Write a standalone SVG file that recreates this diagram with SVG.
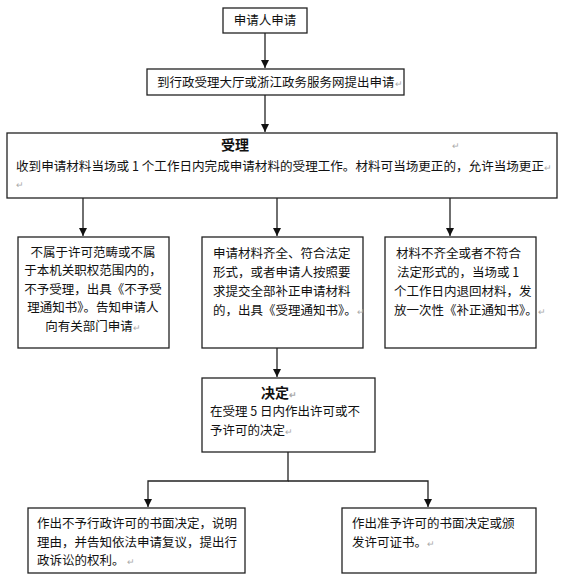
<svg xmlns="http://www.w3.org/2000/svg" width="573" height="584" viewBox="0 0 573 584">
<style>
.box{fill:#fff;stroke:#222;stroke-width:1.3}
.t{font-family:"Noto Sans CJK SC","Noto Sans",sans-serif;font-size:12.5px;fill:#111}
.b{font-family:"Noto Sans CJK SC","Noto Sans",sans-serif;font-size:14px;font-weight:bold;fill:#111}
.c{text-anchor:middle}
.pm{fill:#aaa;font-size:9px}
.ln{fill:none;stroke:#222;stroke-width:1.3}
</style>
<defs>
<marker id="ah" viewBox="0 0 10 10" refX="10" refY="5" markerWidth="8" markerHeight="8" markerUnits="userSpaceOnUse" orient="auto">
<path d="M0,0 L10,5 L0,10 z" fill="#111"/>
</marker>
</defs>
<rect width="573" height="584" fill="#fff"/>
<g id="connectors">
<line class="ln" x1="265" y1="33" x2="265" y2="68" marker-end="url(#ah)"/>
<line class="ln" x1="265" y1="95" x2="265" y2="132" marker-end="url(#ah)"/>
<line class="ln" x1="83" y1="198" x2="83" y2="236" marker-end="url(#ah)"/>
<line class="ln" x1="277" y1="198" x2="277" y2="236" marker-end="url(#ah)"/>
<line class="ln" x1="450" y1="198" x2="450" y2="236" marker-end="url(#ah)"/>
<line class="ln" x1="277" y1="348" x2="277" y2="377" marker-end="url(#ah)"/>
<polyline class="ln" points="288,452 288,481 148,481 148,507" marker-end="url(#ah)"/>
<polyline class="ln" points="288,481 428,481 428,507" marker-end="url(#ah)"/>
</g>
<g id="n1">
<rect class="box" x="223" y="8" width="84" height="25"/>
<text class="t c" x="265" y="25">申请人申请</text>
</g>
<g id="n2">
<rect class="box" x="147" y="69" width="257" height="26"/>
<text class="t" x="157" y="87">到行政受理大厅或浙江政务服务网提出申请<tspan class="pm">↵</tspan></text>
</g>
<g id="n3">
<rect class="box" x="7" y="133" width="550" height="65"/>
<text class="b c" x="235" y="150">受理</text>
<text class="t pm" x="452" y="149">↵</text>
<text class="t" x="16" y="171"><tspan textLength="528" lengthAdjust="spacingAndGlyphs">收到申请材料当场或 1 个工作日内完成申请材料的受理工作。材料可当场更正的，允许当场更正</tspan><tspan class="pm">↵</tspan></text>
<text class="t pm" x="16" y="188">↵</text>
</g>
<g id="n4">
<rect class="box" x="18" y="237" width="151" height="111"/>
<text class="t c" x="93" y="257">不属于许可范畴或不属</text>
<text class="t c" x="93" y="275">于本机关职权范围内的，</text>
<text class="t c" x="93" y="294">不予受理，出具《不予受</text>
<text class="t c" x="93" y="312">理通知书》。告知申请人</text>
<text class="t c" x="93" y="331">向有关部门申请<tspan class="pm">↵</tspan></text>
</g>
<g id="n5">
<rect class="box" x="202" y="237" width="161" height="111"/>
<text class="t" x="213" y="258">申请材料齐全、符合法定</text>
<text class="t" x="213" y="277">形式，或者申请人按照要</text>
<text class="t" x="213" y="296">求提交全部补正申请材料</text>
<text class="t" x="213" y="315">的，出具《受理通知书》。<tspan class="pm">↵</tspan></text>
</g>
<g id="n6">
<rect class="box" x="385" y="237" width="151" height="111"/>
<text class="t" x="396" y="258">材料不齐全或者不符合</text>
<text class="t" x="397" y="277">法定形式的，当场或 1</text>
<text class="t" x="394" y="296">个工作日内退回材料，发</text>
<text class="t" x="394" y="315">放一次性《补正通知书》。<tspan class="pm">↵</tspan></text>
</g>
<g id="n7">
<rect class="box" x="202" y="378" width="173" height="74"/>
<text class="b" x="261" y="398">决定<tspan class="pm">↵</tspan></text>
<text class="t" x="210" y="416">在受理 5 日内作出许可或不</text>
<text class="t" x="210" y="435">予许可的决定<tspan class="pm">↵</tspan></text>
</g>
<g id="n8">
<rect class="box" x="28" y="508" width="217" height="65"/>
<text class="t" x="37" y="528">作出不予行政许可的书面决定，说明</text>
<text class="t" x="37" y="547">理由，并告知依法申请复议，提出行</text>
<text class="t" x="37" y="565">政诉讼的权利。 <tspan class="pm">↵</tspan></text>
</g>
<g id="n9">
<rect class="box" x="342" y="508" width="194" height="65"/>
<text class="t" x="352" y="528">作出准予许可的书面决定或颁</text>
<text class="t" x="352" y="547">发许可证书。<tspan class="pm">↵</tspan></text>
</g>
</svg>
